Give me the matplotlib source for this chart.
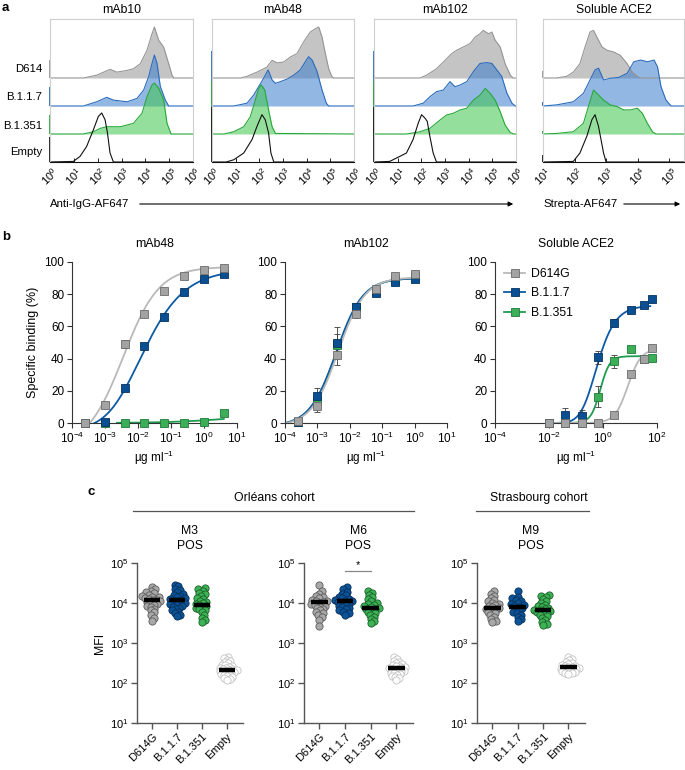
import numpy as np
import matplotlib
matplotlib.use('Agg')
import matplotlib.pyplot as plt
from matplotlib.patches import FancyArrowPatch
from matplotlib.lines import Line2D

plt.rcParams['font.family'] = ['Liberation Sans', 'DejaVu Sans']
plt.rcParams['mathtext.fontset'] = 'custom'
plt.rcParams['mathtext.rm'] = 'Liberation Sans'
plt.rcParams['font.size'] = 8

W, H = 685, 770
fig = plt.figure(figsize=(W / 100, H / 100), dpi=100)


def add_ax(x0, y0, x1, y1):
    # axes box given in pixel coords of the figure (origin top-left)
    return fig.add_axes([x0 / W, 1 - y1 / H, (x1 - x0) / W, (y1 - y0) / H])


# ---------------- panel a : flow histograms (log10 position, height in row units)
rows = ['D614', 'B.1.1.7', 'B.1.351', 'Empty']

mab10_d614_x = [1.4, 1.96, 2.52, 2.8, 3.23, 3.5, 3.79, 4.07, 4.28, 4.38, 4.56, 4.77, 4.98, 5.12, 5.19]
mab10_d614_h = [0, 0.1, 0.31, 0.21, 0.27, 0.33, 0.51, 0.99, 1.58, 1.82, 1.35, 1.1, 0.51, 0.1, 0]
mab10_b117_x = [1.4, 1.96, 2.38, 2.66, 3.23, 3.65, 3.93, 4.14, 4.28, 4.38, 4.49, 4.63, 4.84, 4.98]
mab10_b117_h = [0, 0.15, 0.31, 0.21, 0.15, 0.27, 0.57, 1.05, 1.52, 1.82, 1.52, 0.69, 0.21, 0]
mab10_b1351_x = [1.4, 1.82, 2.1, 2.38, 2.95, 3.5, 3.86, 4.07, 4.28, 4.38, 4.56, 4.77, 4.91, 5.08]
mab10_b1351_h = [0, 0.08, 0.2, 0.26, 0.26, 0.38, 0.74, 1.33, 1.75, 1.82, 1.64, 1.21, 0.38, 0]
mab10_empty_x = [0.98, 1.26, 1.54, 1.82, 2.03, 2.17, 2.31, 2.41, 2.52, 2.66]
mab10_empty_h = [0.02, 0.2, 0.56, 1.15, 1.63, 1.75, 1.51, 1.04, 0.32, 0]

mab48_d614_x = [1.2, 1.48, 1.9, 2.32, 2.54, 2.75, 3.03, 3.31, 3.59, 3.87, 4.15, 4.37, 4.51, 4.65, 4.79, 4.93, 5.07, 5.15]
mab48_d614_h = [0, 0.06, 0.21, 0.39, 0.63, 0.54, 0.57, 0.75, 0.87, 1.29, 1.64, 1.76, 1.82, 1.46, 0.87, 0.33, 0.04, 0]
mab48_b117_x = [0.92, 1.48, 1.76, 1.97, 2.18, 2.37, 2.54, 2.68, 2.89, 3.17, 3.45, 3.73, 3.94, 4.08, 4.23, 4.44, 4.65, 4.83, 4.93]
mab48_b117_h = [0, 0.1, 0.39, 0.69, 0.99, 1.29, 0.93, 0.81, 0.87, 0.96, 1.1, 1.29, 1.58, 1.76, 1.64, 1.23, 0.57, 0.1, 0]
mab48_b1351_x = [0.5, 0.92, 1.34, 1.62, 1.83, 1.97, 2.08, 2.23, 2.39, 2.54, 2.68]
mab48_b1351_h = [0, 0.08, 0.26, 0.62, 1.21, 1.63, 1.75, 1.57, 0.86, 0.26, 0.02]
mab48_empty_x = [0.6, 0.92, 1.34, 1.69, 1.9, 2.11, 2.25, 2.39, 2.49, 2.61]
mab48_empty_h = [0, 0.08, 0.32, 0.8, 1.27, 1.69, 1.51, 1.04, 0.32, 0]

mab102_d614_x = [1.94, 2.22, 2.64, 3.07, 3.28, 3.49, 3.78, 4.06, 4.27, 4.48, 4.62, 4.84, 4.98, 5.12, 5.33, 5.54, 5.76, 5.88]
mab102_d614_h = [0, 0.1, 0.33, 0.69, 0.87, 0.99, 1.11, 1.23, 1.46, 1.58, 1.7, 1.58, 1.64, 1.35, 1.11, 0.51, 0.1, 0]
mab102_b117_x = [1.65, 2.08, 2.36, 2.64, 2.93, 3.21, 3.42, 3.64, 3.92, 4.2, 4.48, 4.77, 4.98, 5.19, 5.4, 5.62, 5.83, 5.97]
mab102_b117_h = [0, 0.1, 0.33, 0.51, 0.57, 0.87, 0.69, 0.75, 0.87, 1.23, 1.52, 1.55, 1.52, 1.29, 1.05, 0.45, 0.1, 0]
mab102_b1351_x = [1.37, 1.94, 2.36, 2.79, 3.07, 3.35, 3.64, 3.92, 4.2, 4.48, 4.7, 4.91, 5.12, 5.33, 5.54, 5.76, 5.9]
mab102_b1351_h = [0, 0.08, 0.2, 0.5, 0.68, 0.74, 0.86, 0.92, 1.21, 1.39, 1.63, 1.45, 1.21, 0.8, 0.32, 0.05, 0]
mab102_empty_x = [0.66, 1.09, 1.37, 1.65, 1.87, 2.01, 2.15, 2.25, 2.36, 2.5, 2.64]
mab102_empty_h = [0.02, 0.2, 0.32, 0.8, 1.39, 1.69, 1.57, 1.45, 0.92, 0.32, 0]

ace2_d614_x = [1.43, 1.75, 1.96, 2.17, 2.33, 2.49, 2.6, 2.71, 2.87, 3.03, 3.24, 3.45, 3.67, 3.83, 3.99, 4.1]
ace2_d614_h = [0, 0.06, 0.21, 0.51, 1.1, 1.64, 1.7, 1.46, 1.11, 0.99, 0.93, 0.81, 0.51, 0.21, 0.06, 0]
ace2_b117_x = [1.43, 1.96, 2.28, 2.49, 2.65, 2.76, 2.92, 3.13, 3.4, 3.67, 3.88, 4.1, 4.31, 4.52, 4.63, 4.74, 4.9, 5.06]
ace2_b117_h = [0.04, 0.15, 0.45, 0.93, 1.29, 1.35, 0.93, 0.99, 1.02, 1.17, 1.58, 1.64, 1.58, 1.64, 1.4, 0.69, 0.21, 0]
ace2_b1351_x = [1.43, 1.96, 2.28, 2.44, 2.6, 2.71, 2.92, 3.13, 3.35, 3.56, 3.77, 3.99, 4.15, 4.31, 4.47, 4.58]
ace2_b1351_h = [0.02, 0.08, 0.38, 0.98, 1.57, 1.45, 1.21, 1.04, 0.98, 0.86, 0.86, 0.92, 0.74, 0.38, 0.08, 0]
ace2_empty_x = [1.96, 2.17, 2.39, 2.55, 2.65, 2.76, 2.92, 3.0]
ace2_empty_h = [0.02, 0.32, 0.92, 1.51, 1.69, 1.27, 0.32, 0]

# pile-up at the lowest channel (left edge), per row
spikes_mab10 = [0.63, 0.69, 0.68, 0.9]
spikes_mab48 = [0.0, 1.95, 1.9, 1.95]
spikes_mab102 = [0.1, 1.95, 1.9, 1.98]
spikes_ace2 = [0.25, 0.15, 0.1, 0.25]

hist_panels = [
    ('mAb10', (50, 193), (0, 6),
     [(mab10_d614_x, mab10_d614_h), (mab10_b117_x, mab10_b117_h),
      (mab10_b1351_x, mab10_b1351_h), (mab10_empty_x, mab10_empty_h)], spikes_mab10),
    ('mAb48', (212, 354), (0, 6),
     [(mab48_d614_x, mab48_d614_h), (mab48_b117_x, mab48_b117_h),
      (mab48_b1351_x, mab48_b1351_h), (mab48_empty_x, mab48_empty_h)], spikes_mab48),
    ('mAb102', (374, 516), (0, 6),
     [(mab102_d614_x, mab102_d614_h), (mab102_b117_x, mab102_b117_h),
      (mab102_b1351_x, mab102_b1351_h), (mab102_empty_x, mab102_empty_h)], spikes_mab102),
    ('Soluble ACE2', (543, 684), (1, 5.47),
     [(ace2_d614_x, ace2_d614_h), (ace2_b117_x, ace2_b117_h),
      (ace2_b1351_x, ace2_b1351_h), (ace2_empty_x, ace2_empty_h)], spikes_ace2),
]

hist_style = [
    dict(fc='#c4c4c4', ec='#959595', alpha=1.0),
    dict(fc='#3b7ccc', ec='#2a6cbd', alpha=0.55),
    dict(fc='#3cc64c', ec='#27a838', alpha=0.55),
    dict(fc=None, ec='#111111', alpha=1.0),
]
baselines = [3, 2, 1, 0]

for title, (x0, x1), (lo, hi), curves, spikes in hist_panels:
    ax = add_ax(x0, 19, x1, 162)
    for (xl, hl), st, base, sp in zip(curves, hist_style, baselines, spikes):
        xs = 10 ** np.concatenate([[lo], xl, [hi]])
        hs = base + np.concatenate([[0], hl, [0]])
        if st['fc'] is not None:
            ax.fill_between(xs, base, hs, color=st['fc'], alpha=st['alpha'], lw=0)
        ax.plot(xs, hs, color=st['ec'], lw=0.8)
        if sp > 0:
            ax.vlines(10 ** lo, base, base + sp, color=st['ec'], lw=1.3, clip_on=False)
    ax.set_xscale('log')
    ax.set_xlim(10 ** lo, 10 ** hi)
    ax.set_ylim(0, 5.107)
    ax.set_yticks([])
    dec = list(range(int(np.ceil(lo)), int(np.floor(hi)) + 1))
    ax.set_xticks([10.0 ** k for k in dec])
    ax.set_xticklabels(['$10^{%d}$' % k for k in dec], rotation=45, ha='center', va='top')
    ax.tick_params(axis='x', which='major', length=3, width=0.6, direction='in', labelsize=8, pad=2)
    ax.tick_params(axis='x', which='minor', length=1.5, width=0.5, direction='in')
    for s in ['top', 'right', 'left']:
        ax.spines[s].set_color('#cfcfcf')
        ax.spines[s].set_linewidth(0.8)
    ax.spines['bottom'].set_color('#111111')
    ax.spines['bottom'].set_linewidth(0.8)
    ax.set_title(title, fontsize=8.8, pad=4)

for name, yy in zip(rows, [69, 97, 126, 152]):
    fig.text(42 / W, 1 - yy / H, name, ha='right', va='center', fontsize=8.2)

fig.text(50 / W, 1 - 204 / H, 'Anti-IgG-AF647', ha='left', va='center', fontsize=8.2)
fig.text(543 / W, 1 - 204 / H, 'Strepta-AF647', ha='left', va='center', fontsize=8.2)
for ax0, ax1 in [(137, 516), (621, 683)]:
    fig.add_artist(FancyArrowPatch((ax0 / W, 1 - 204 / H), (ax1 / W, 1 - 204 / H),
                                   transform=fig.transFigure, arrowstyle='-|>',
                                   mutation_scale=7, lw=0.8, color='black'))

# ---------------- panel b : binding curves
conc48 = [2.44e-4, 9.77e-4, 3.9e-3, 1.56e-2, 6.25e-2, 0.25, 1, 4]
gray48 = [0, 11, 49, 68, 82, 91.5, 95, 96]
gray48_err = [0, 1, 2.5, 1, 1, 0.8, 0.8, 0.8]
blue48 = [0, 0.4, 22, 48, 65.6, 81.3, 89.6, 92.5]
blue48_err = [0, 0, 1, 1, 1, 1, 1, 1]
green48 = [np.nan, 0, 0, 0, 0, 0, 0.6, 6.2]
green48_err = [0, 0, 0, 0, 0, 0, 0, 0]

conc102 = [2.44e-4, 9.77e-4, 3.9e-3, 1.56e-2, 6.25e-2, 0.25, 1]
gray102 = [1.2, 10.6, 42, 68, 83, 91.5, 92.7]
gray102_err = [0.5, 3.5, 6, 3, 2, 1, 1]
blue102 = [0.4, 16.8, 50, 72, 81, 87.5, 89.6]
blue102_err = [0.5, 5, 9.5, 2.5, 2, 1, 1]
green102 = [0.8, 13.7, 48.5, 72, 82, 89, 91]
green102_err = [0.5, 4, 7, 2, 1.5, 1, 1]

conc_ace2 = [0.01, 0.04, 0.16, 0.64, 2.6, 10.5, 32, 64]
gray_ace2 = [0, 0, 0, 0, 5, 30.3, 39.6, 46.3]
gray_ace2_err = [0, 0, 0, 0, 1.5, 0.8, 1, 1]
blue_ace2 = [0, 5, 4.4, 40.7, 62.4, 70.3, 73, 77]
blue_ace2_err = [0, 4.5, 3.5, 4, 2, 1, 1, 1]
green_ace2 = [0, 0, 0, 16.4, 38.2, 45.9, 40, 40.2]
green_ace2_err = [0, 0, 0, 6.5, 4, 1, 1, 1]

# fitted curve parameters: bottom, top, log10 EC50, hill, asymmetry
fit48 = {'D614G': (-15, 97, -2.45, 0.8, 1), 'B.1.1.7': (-4, 95.5, -2.62, 0.6, 2.5),
         'B.1.351': (0, 5, 0.6, 0.5, 1)}
fit102 = {'D614G': (-2, 90.5, -2.36, 1.05, 1), 'B.1.1.7': (-2, 90, -2.42, 1.05, 1),
          'B.1.351': (-2, 90, -2.40, 1.05, 1)}
fit_ace2 = {'D614G': (0, 46, 0.92, 1.8, 1), 'B.1.1.7': (0, 73, -0.649, 1.1, 2.5),
            'B.1.351': (0, 41.5, -0.1, 2.5, 1)}

variants = ['D614G', 'B.1.1.7', 'B.1.351']
b_marker = {'D614G': ('#a3a3a3', '#6a6a6a'), 'B.1.1.7': ('#0b4f93', '#06335f'),
            'B.1.351': ('#3cae57', '#1f7a38')}
b_line = {'D614G': '#b9b9b9', 'B.1.1.7': '#0c5aa6', 'B.1.351': '#1f9c50'}


def curve(lx, B, T, c, h, s):
    return B + (T - B) / (1 + 10 ** ((c - lx) * h)) ** s


b_panels = [
    ('mAb48', (72, 237), (1e-4, 1e1), conc48,
     {'D614G': (gray48, gray48_err), 'B.1.1.7': (blue48, blue48_err), 'B.1.351': (green48, green48_err)},
     fit48, {'D614G': (-3.61, 0.6), 'B.1.1.7': (-3.61, 0.6), 'B.1.351': (-2.64, 0.6)}),
    ('mAb102', (285, 447), (1e-4, 1e1), conc102,
     {'D614G': (gray102, gray102_err), 'B.1.1.7': (blue102, blue102_err), 'B.1.351': (green102, green102_err)},
     fit102, {k: (-4, 0.05) for k in variants}),
    ('Soluble ACE2', (495, 657), (1e-4, 1e2), conc_ace2,
     {'D614G': (gray_ace2, gray_ace2_err), 'B.1.1.7': (blue_ace2, blue_ace2_err),
      'B.1.351': (green_ace2, green_ace2_err)},
     fit_ace2, {'D614G': (-2, 1.82), 'B.1.1.7': (-2, 1.75), 'B.1.351': (-2, 1.75)}),
]

b_axes = []
for title, (x0, x1), xlim, conc, series, fits, ranges in b_panels:
    ax = add_ax(x0, 262, x1, 423)
    b_axes.append(ax)
    for v in ['B.1.351', 'B.1.1.7', 'D614G']:
        lx = np.linspace(ranges[v][0], ranges[v][1], 300)
        ax.plot(10 ** lx, curve(lx, *fits[v]), color=b_line[v], lw=1.3, zorder=2)
    for v in ['B.1.351', 'B.1.1.7', 'D614G']:
        yv, ev = series[v]
        ax.errorbar(conc, yv, yerr=ev, fmt='none', ecolor='#3a3a3a', elinewidth=0.6,
                    capsize=2.2, capthick=0.6, zorder=3, clip_on=False)
        fc, ec = b_marker[v]
        ax.plot(conc, yv, ls='none', marker='s', ms=5.2, mfc=fc, mec=ec, mew=0.6,
                zorder=4, clip_on=False)
    ax.set_xscale('log')
    ax.set_xlim(*xlim)
    ax.set_ylim(0, 100)
    ax.set_yticks(range(0, 101, 20))
    k0, k1 = int(round(np.log10(xlim[0]))), int(round(np.log10(xlim[1])))
    step = 1 if k1 - k0 <= 5 else 2
    ax.set_xticks([10.0 ** k for k in range(k0, k1 + 1, step)])
    ax.minorticks_off()
    for s in ['top', 'right']:
        ax.spines[s].set_visible(False)
    for s in ['left', 'bottom']:
        ax.spines[s].set_color('#333333')
        ax.spines[s].set_linewidth(0.8)
    ax.tick_params(length=3.5, width=0.8, color='#333333', labelsize=8.5, pad=2)
    ax.set_title(title, fontsize=8.8, pad=11)
    ax.set_xlabel('µg ml$^{-1}$', fontsize=8.5, labelpad=2)

b_axes[0].set_ylabel('Specific binding (%)', fontsize=9, labelpad=4)
handles = [Line2D([], [], color=b_line[v], lw=1.3, marker='s', ms=5.2, mfc=b_marker[v][0],
                  mec=b_marker[v][1], mew=0.6) for v in variants]
b_axes[2].legend(handles, variants, loc='upper left', frameon=False, fontsize=8.8,
                 handlelength=1.7, handletextpad=0.5, labelspacing=0.6,
                 borderaxespad=0.1, bbox_to_anchor=(0.02, 1.0))

# ---------------- panel c : MFI per serum
cats = ['D614G', 'B.1.1.7', 'B.1.351', 'Empty']

m3_d614g = [25000, 22000, 20000, 19000, 17500, 16000, 15000, 14500, 14000, 13000, 12500, 12000, 11800,
            11000, 10500, 10000, 9500, 9000, 8500, 8000, 7200, 6500, 5800, 5000, 4300, 3600]
m3_b117 = [29000, 26000, 23000, 21000, 19000, 17000, 16000, 15000, 14000, 13000, 12500, 12000, 11500,
           11000, 10000, 9500, 9000, 8500, 8000, 7500, 7000, 6500, 6000, 5500, 5000, 4600]
m3_b1351 = [24000, 22000, 20000, 18000, 16500, 15000, 13500, 12500, 11500, 10500, 10000, 9500, 9000,
            8500, 8000, 7500, 7000, 6500, 6000, 5000, 4300, 3800, 3400]
m3_empty = [450, 410, 380, 350, 330, 310, 290, 275, 260, 250, 240, 232, 225, 218, 212, 206, 200, 194,
            188, 182, 176, 170, 163, 156, 148, 140, 132, 125, 120]
m3_means = [12000, 12000, 9000, 210]

m6_d614g = [28000, 20000, 17000, 15000, 14000, 13000, 12000, 11500, 11000, 10500, 10000, 9500, 9000,
            8500, 8000, 7500, 7000, 6500, 6000, 5500, 5000, 4500, 3800, 2700]
m6_b117 = [25000, 22000, 19000, 17000, 15500, 14500, 13500, 12500, 12000, 11500, 11000, 10500, 10000,
           9500, 9000, 8500, 8000, 7500, 7000, 6500, 6000, 5500, 5000]
m6_b1351 = [20000, 18000, 16000, 14000, 12500, 11000, 10000, 9500, 9000, 8500, 8000, 7500, 7200, 7000,
            6500, 6000, 5500, 5000, 4500, 4000, 3500, 3100]
m6_empty = [450, 400, 360, 330, 310, 295, 280, 270, 260, 250, 242, 235, 228, 220, 212, 205, 198, 190,
            182, 175, 168, 160, 150, 140, 130, 120]
m6_means = [10500, 11000, 7500, 240]

m9_d614g = [20000, 17000, 15000, 13500, 12000, 11000, 10000, 9500, 9000, 8500, 8000, 7500, 7200, 7000,
            6500, 6000, 5500, 5000, 4500, 4000, 3600, 3300]
m9_b117 = [20000, 14000, 13000, 12000, 11000, 10000, 9500, 9000, 8500, 8000, 7500, 7000, 6500, 6000,
           5500, 5000, 4500, 4000, 3600]
m9_b1351 = [16000, 15000, 14000, 12500, 11000, 10000, 9000, 8500, 8000, 7500, 7000, 6800, 6500, 6200,
            6000, 5700, 5400, 5000, 4600, 4200, 3800, 3400, 3000, 2800]
m9_empty = [450, 400, 370, 340, 320, 300, 285, 270, 260, 252, 245, 238, 230, 224, 218, 212, 205, 198,
            190, 182, 175, 168]
m9_means = [7500, 8000, 6600, 250]

c_style = [('#a8a8a8', '#5c5c5c'), ('#0b5297', '#06305a'), ('#3db356', '#1b5f2a'), ('white', '#c2c2c2')]
swarm_gap = [3.6, 3.6, 3.6, 3.0]


def swarm(vals, d, step=0.5, px_cat=25.0, px_dec=40.0):
    # simple beeswarm in pixel space, returns x offsets in category units
    y = np.log10(vals) * px_dec
    xs = np.zeros(len(y))
    placed = []
    for i in np.argsort(y):
        for k in range(80):
            cands = [0.0] if k == 0 else [k * step, -k * step]
            ok = None
            for cx in cands:
                if all((cx - px) ** 2 + (y[i] - py) ** 2 >= d * d for px, py in placed):
                    ok = cx
                    break
            if ok is not None:
                break
        xs[i] = ok
        placed.append((ok, y[i]))
    return xs / px_cat


c_panels = [
    ('M3\nPOS', (137, 243), [m3_d614g, m3_b117, m3_b1351, m3_empty], m3_means),
    ('M6\nPOS', (304, 413), [m6_d614g, m6_b117, m6_b1351, m6_empty], m6_means),
    ('M9\nPOS', (477, 585), [m9_d614g, m9_b117, m9_b1351, m9_empty], m9_means),
]

c_axes = []
for title, (x0, x1), groups, means in c_panels:
    ax = add_ax(x0, 563, x1, 723)
    c_axes.append(ax)
    for i, (vals, mean, (fc, ec), gap) in enumerate(zip(groups, means, c_style, swarm_gap)):
        off = swarm(vals, gap)
        ax.scatter(i + off, vals, s=27, c=fc, edgecolors=ec, linewidths=0.6, zorder=3, clip_on=False)
        ax.plot([i - 0.33, i + 0.33], [mean, mean], color='black', lw=3.2, solid_capstyle='butt', zorder=4)
    ax.set_yscale('log')
    ax.set_ylim(10, 1e5)
    ax.set_yticks([1e1, 1e2, 1e3, 1e4, 1e5])
    ax.minorticks_off()
    ax.set_xlim(-0.6, 3.65)
    ax.set_xticks(range(4))
    ax.set_xticklabels(cats, rotation=45, ha='right', rotation_mode='anchor')
    for s in ['top', 'right']:
        ax.spines[s].set_visible(False)
    for s in ['left', 'bottom']:
        ax.spines[s].set_color('#555555')
        ax.spines[s].set_linewidth(1.0)
    ax.tick_params(length=4, width=1.0, color='#555555', labelsize=8, pad=2)
    ax.set_title(title, fontsize=8.8, pad=10, linespacing=1.3)

c_axes[0].set_ylabel('MFI', fontsize=8.8, labelpad=3)
c_axes[1].plot([1, 2], [6.3e4, 6.3e4], color='#888888', lw=0.9, clip_on=False)
c_axes[1].text(1.5, 6.5e4, '*', ha='center', va='bottom', fontsize=8)

fig.text(274 / W, 1 - 498 / H, 'Orléans cohort', ha='center', va='center', fontsize=8.8)
fig.text(539 / W, 1 - 498 / H, 'Strasbourg cohort', ha='center', va='center', fontsize=8.8)
for lx0, lx1 in [(133, 414), (476, 589)]:
    fig.add_artist(Line2D([lx0 / W, lx1 / W], [1 - 511 / H, 1 - 511 / H],
                          transform=fig.transFigure, color='#555555', lw=0.9))

for lab, px, py in [('a', 2, 8), ('b', 2, 237), ('c', 88, 492)]:
    fig.text(px / W, 1 - py / H, lab, fontsize=9.5, fontweight='bold', va='center', ha='left')

fig.savefig('out.png', dpi=100)
